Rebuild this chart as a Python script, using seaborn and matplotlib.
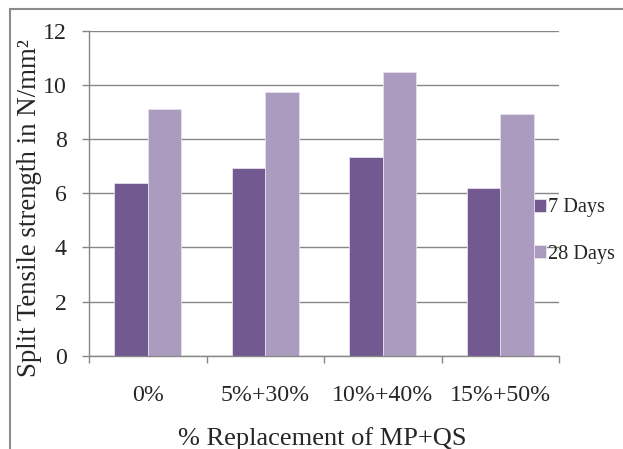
import matplotlib
matplotlib.use("Agg")
import matplotlib.pyplot as plt
import seaborn as sns
import pandas as pd
from matplotlib.patches import Rectangle
from matplotlib.ticker import FixedLocator

categories = ["0%", "5%+30%", "10%+40%", "15%+50%"]
series_names = ["7 Days", "28 Days"]
days7 = [6.39, 6.94, 7.33, 6.21]
days28 = [9.12, 9.73, 10.50, 8.94]
yticks = [0, 2, 4, 6, 8, 10, 12]

df = pd.DataFrame({
    "cat": categories * 2,
    "series": [series_names[0]] * 4 + [series_names[1]] * 4,
    "val": days7 + days28,
})

sns.set_theme(style="white")
plt.rcParams["font.family"] = ["Liberation Serif", "DejaVu Serif"]

fig = plt.figure(figsize=(6.23, 4.49), dpi=100)
ax = fig.add_axes([89/623, 1-355.7/449, 470/623, 324.7/449])

palette = ["#72598F", "#AA9BBF"]
sns.barplot(data=df, x="cat", y="val", hue="series", palette=palette,
            width=0.57, ax=ax, edgecolor="#E6E0EE", linewidth=0.6,
            saturation=1)

ax.set_ylim(0, 12)
ax.set_xlim(-0.5, 3.5)
ax.set_yticks(yticks)
ax.set_yticklabels([str(t) for t in yticks])
ax.yaxis.grid(True, color="#878787", linewidth=1.0)
ax.set_axisbelow(True)
for s in ["top", "right"]:
    ax.spines[s].set_visible(False)
for s in ["left", "bottom"]:
    ax.spines[s].set_color("#878787")
    ax.spines[s].set_linewidth(1.0)

ax.tick_params(axis="y", which="major", length=5, width=1, color="#878787",
               pad=11, labelsize=17.2, left=True, direction="out")
ax.tick_params(axis="x", which="major", length=0, pad=21, labelsize=17.2)
ax.xaxis.set_minor_locator(FixedLocator([-0.5, 0.5, 1.5, 2.5, 3.5]))
ax.tick_params(axis="x", which="minor", length=5, width=1, color="#878787",
               bottom=True, direction="out")

ax.set_xlabel("% Replacement of MP+QS", fontsize=19)
ax.set_ylabel("Split Tensile strength in N/mm²", fontsize=19.4)
ax.xaxis.set_label_coords(0.496, -0.22)
ax.yaxis.set_label_coords(-0.099, 0.456)

ax.legend(loc="center left", bbox_to_anchor=(534/623, 1-231/449),
          bbox_transform=fig.transFigure, frameon=False, fontsize=14.6,
          handlelength=0.6, handleheight=0.6, handletextpad=0.1,
          labelspacing=1.35, borderaxespad=0, borderpad=0, title=None)

fig.patches.append(Rectangle((9.5/623, -0.05), 1.2, 1 - 8.5/449 + 0.05,
                             transform=fig.transFigure, fill=False,
                             edgecolor="#8C8C8C", linewidth=1.5))

fig.savefig("out.png", dpi=100)
